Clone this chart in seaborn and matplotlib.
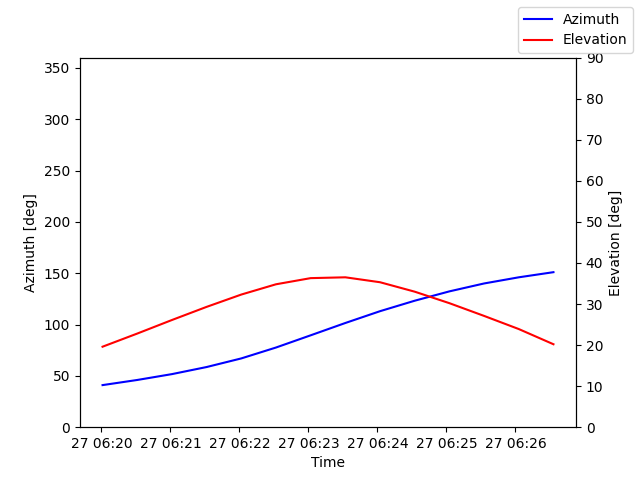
import matplotlib
matplotlib.use("Agg")
import matplotlib.pyplot as plt
import seaborn as sns
import pandas as pd
import numpy as np

time_start = "2023-06-27 06:20:01"
time_end = "2023-06-27 06:26:33"
times = pd.date_range(time_start, time_end, periods=14)
azimuth = [41.0, 46.0, 51.7, 58.6, 67.0, 77.6, 89.5, 101.5, 113.0, 123.2, 132.3, 140.0, 146.0, 151.0]
elevation = [19.6, 22.8, 26.1, 29.3, 32.3, 34.8, 36.3, 36.5, 35.3, 33.0, 30.2, 27.1, 23.9, 20.2]

df = pd.DataFrame({"Time": times, "Azimuth": azimuth, "Elevation": elevation})

fig, ax = plt.subplots(figsize=(6.4, 4.8), dpi=100)
sns.lineplot(data=df, x="Time", y="Azimuth", color="blue", ax=ax, label="Azimuth", legend=False)
ax.set_ylim(0, 360)
ax.set_ylabel("Azimuth [deg]")
ax.set_xlabel("Time")

ax2 = ax.twinx()
sns.lineplot(data=df, x="Time", y="Elevation", color="red", ax=ax2, label="Elevation", legend=False)
ax2.set_ylim(0, 90)
ax2.set_ylabel("Elevation [deg]")

h1, l1 = ax.get_legend_handles_labels()
h2, l2 = ax2.get_legend_handles_labels()
fig.legend(h1 + h2, l1 + l2, loc="upper right")

fig.savefig("out.png", dpi=100)
